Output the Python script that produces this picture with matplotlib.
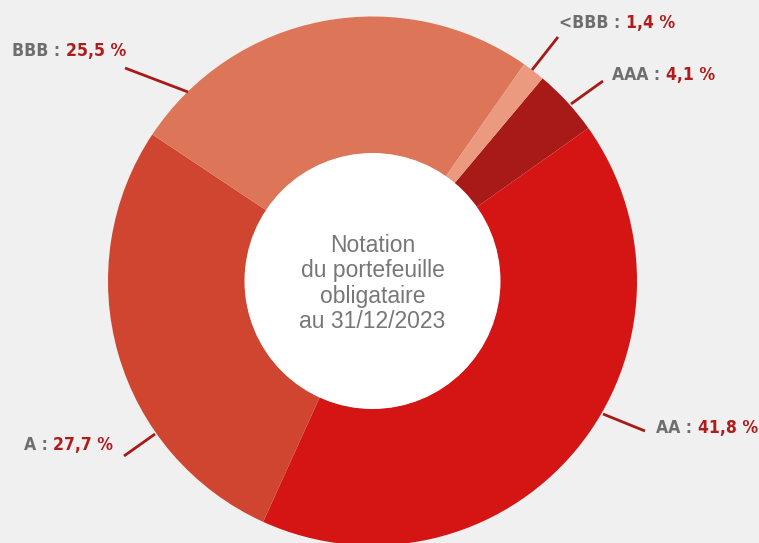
import matplotlib
matplotlib.use("Agg")
import matplotlib.pyplot as plt
from matplotlib.patches import Circle

# Data
categories = ["AAA", "AA", "A", "BBB", "<BBB"]
values = [4.1, 41.8, 27.7, 25.5, 1.4]
value_labels = ["4,1 %", "41,8 %", "27,7 %", "25,5 %", "1,4 %"]
colors = ["#a81a18", "#d51414", "#d04530", "#dd7558", "#eb9a80"]
center_text = "Notation\ndu portefeuille\nobligataire\nau 31/12/2023"

W, H = 759, 543
BG = "#f0f0f0"
GRAY = "#6e6e6e"
RED = "#b01c1c"

fig = plt.figure(figsize=(W / 100, H / 100), dpi=100, facecolor=BG)
ax = fig.add_axes([0, 0, 1, 1])
ax.set_facecolor(BG)


def py(y):
    return H - y


cx, cy, R, r = 372.5, 281, 264.5, 127.5
ax.pie(values, colors=colors, startangle=50, counterclock=False,
       radius=R, center=(cx, py(cy)),
       wedgeprops=dict(width=R - r, linewidth=0))
ax.add_patch(Circle((cx, py(cy)), r + 0.5, facecolor="white", edgecolor="none"))
ax.set_xlim(0, W)
ax.set_ylim(0, H)
ax.set_aspect("equal")
ax.axis("off")

ax.text(cx, py(cy + 2.5), center_text, ha="center", va="center",
        fontsize=16.5, color="#777777", linespacing=1.14,
        family=["Liberation Sans", "DejaVu Sans"])

# label layout: (left x, center y) and leader line endpoints in pixel space
label_pos = {"AAA": (612, 75), "AA": (656, 428), "A": (24, 445),
             "BBB": (12, 51), "<BBB": (559, 23)}
leaders = {"AAA": ((603, 81), (571, 104)), "AA": ((645, 431), (603, 414)),
           "A": ((124, 456), (155, 434)), "BBB": ((125, 68), (188, 92)),
           "<BBB": ((558, 37), (532, 70))}

fam = ["DejaVu Sans"]
fig.canvas.draw()
renderer = fig.canvas.get_renderer()
for cat, val in zip(categories, value_labels):
    x, y = label_pos[cat]
    t1 = ax.text(x, py(y), cat + " : ", ha="left", va="center", fontsize=12.6,
                 fontweight="bold", fontstretch="condensed", color=GRAY, family=fam)
    bb = t1.get_window_extent(renderer=renderer)
    ax.text(x + bb.width, py(y), val, ha="left", va="center", fontsize=12.6,
            fontweight="bold", fontstretch="condensed", color=RED, family=fam)
    (x1, y1), (x2, y2) = leaders[cat]
    ax.plot([x1, x2], [py(y1), py(y2)], color="#a81a18", lw=2.0,
            solid_capstyle="butt")

fig.savefig("out.png", dpi=100, facecolor=BG)
